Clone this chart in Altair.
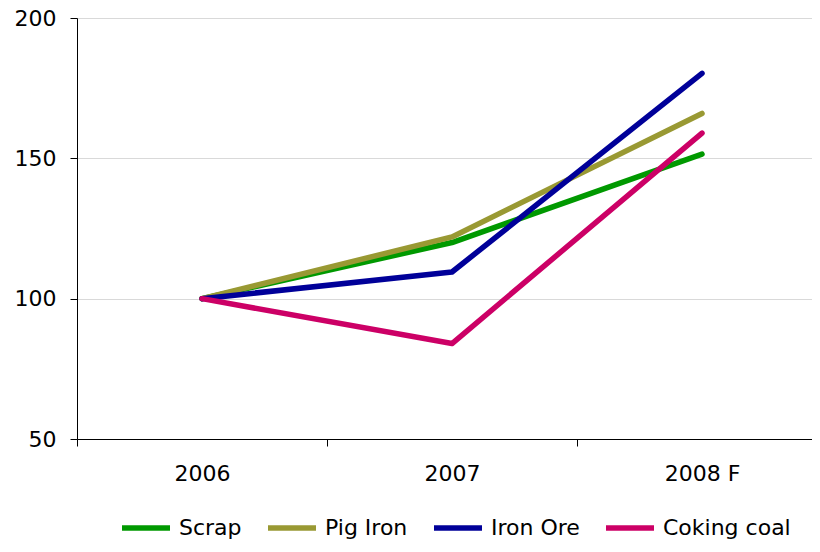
import altair as alt
import pandas as pd

years = ["2006", "2007", "2008 F"]
series_names = ["Scrap", "Pig Iron", "Iron Ore", "Coking coal"]
scrap = [100, 120, 151.5]
pig_iron = [100, 122, 166]
iron_ore = [100, 109.5, 180.3]
coking_coal = [100, 84, 159]
colors = ["#009900", "#999933", "#000099", "#CC0066"]

rows = []
for name, vals in zip(series_names, [scrap, pig_iron, iron_ore, coking_coal]):
    for yr, v in zip(years, vals):
        rows.append({"year": yr, "value": v, "series": name, "order": series_names.index(name)})
df = pd.DataFrame(rows)

FONT = "DejaVu Sans"

chart = alt.Chart(df).mark_line(strokeWidth=5.5, strokeCap="round", strokeJoin="round").encode(
    x=alt.X("year:N", sort=years, bandPosition=0.5,
            scale=alt.Scale(type="band", range=[0, 750], paddingInner=0, paddingOuter=0),
            axis=alt.Axis(title=None, labelAngle=0, tickBand="extent", grid=False,
                          domainColor="black", domainWidth=1, tickColor="black", tickSize=7,
                          labelFont=FONT, labelFontSize=22, labelColor="black", labelPadding=17)),
    y=alt.Y("value:Q", scale=alt.Scale(domain=[50, 200], nice=False, zero=False),
            axis=alt.Axis(title=None, values=[50, 100, 150, 200], grid=True, gridColor="#d9d9d9",
                          gridWidth=1, domainColor="black", domainWidth=1, tickColor="black",
                          tickSize=7, labelFont=FONT, labelFontSize=22, labelColor="black",
                          labelPadding=14)),
    stroke=alt.Stroke("series:N", sort=series_names,
                    scale=alt.Scale(domain=series_names, range=colors),
                    legend=alt.Legend(title=None, orient="none", direction="horizontal",
                                      legendX=42, legendY=483, symbolType="stroke",
                                      symbolSize=2304, symbolStrokeWidth=5.5, symbolOpacity=1,
                                      labelFont=FONT,
                                      labelFontSize=22, labelColor="black", columnPadding=15,
                                      labelOffset=6, padding=0)),
    order=alt.Order("order:Q"),
    detail="series:N",
).properties(
    width=735, height=421,
    autosize=alt.AutoSizeParams(type="none"),
    padding={"left": 69, "top": 10, "right": 0, "bottom": 101},
).configure_view(stroke=None).configure(background="white")

chart.save("out.html", embed_options={"renderer": "svg", "actions": False})
